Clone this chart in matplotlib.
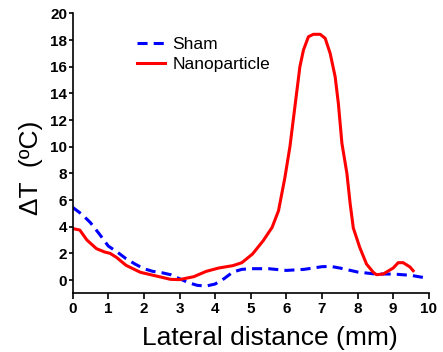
import matplotlib
matplotlib.use("Agg")
import matplotlib.pyplot as plt

plt.rcParams['font.family'] = ['Liberation Sans', 'DejaVu Sans']

# Sham (blue dashed)
sham_x = [0.0, 0.25, 0.5, 0.75, 1.0, 1.25, 1.5, 1.75, 2.0, 2.25, 2.5, 2.75,
          3.0, 3.25, 3.5, 3.75, 4.0, 4.25, 4.5, 4.75, 5.0, 5.5, 6.0, 6.5,
          7.0, 7.25, 7.5, 8.0, 8.5, 9.0, 9.5, 10.0]
sham_y = [5.45, 4.95, 4.3, 3.45, 2.55, 2.1, 1.6, 1.2, 0.85, 0.65, 0.55, 0.4,
          0.1, -0.2, -0.4, -0.45, -0.3, 0.1, 0.6, 0.8, 0.85, 0.85, 0.72, 0.8,
          1.0, 1.02, 0.9, 0.6, 0.45, 0.45, 0.35, 0.12]

# Nanoparticle (red solid)
nano_x = [0.0, 0.2, 0.4, 0.67, 0.9, 1.05, 1.23, 1.5, 1.9, 2.35, 2.75, 3.0,
          3.4, 3.75, 4.1, 4.5, 4.75, 5.05, 5.35, 5.6, 5.78, 5.96, 6.1, 6.24,
          6.38, 6.48, 6.62, 6.76, 6.95, 7.09, 7.23, 7.37, 7.46, 7.56, 7.7,
          7.79, 7.88, 8.06, 8.25, 8.44, 8.53, 8.72, 9.0, 9.14, 9.28, 9.47, 9.56]
nano_y = [3.86, 3.75, 3.0, 2.35, 2.1, 2.0, 1.7, 1.1, 0.58, 0.3, 0.05, 0.03,
          0.25, 0.65, 0.9, 1.08, 1.3, 1.95, 2.95, 3.95, 5.2, 7.7, 10.0, 13.0,
          16.0, 17.25, 18.25, 18.43, 18.43, 18.13, 17.0, 15.25, 13.25, 10.25, 8.0,
          5.75, 3.9, 2.45, 1.2, 0.58, 0.4, 0.45, 0.9, 1.3, 1.3, 0.98, 0.7]

x_ticks = [0, 1, 2, 3, 4, 5, 6, 7, 8, 9, 10]
y_ticks = [0, 2, 4, 6, 8, 10, 12, 14, 16, 18, 20]

fig = plt.figure(figsize=(4.43, 3.52), dpi=100)
ax = fig.add_axes([0.164, 0.1685, 0.804, 0.7935])

ax.plot(sham_x, sham_y, color='#0000ff', lw=2.2, linestyle=(0, (3.3, 2.0)),
        dash_capstyle='butt', label='Sham')
ax.plot(nano_x, nano_y, color='#ff0000', lw=2.2, solid_joinstyle='round',
        label='Nanoparticle')

ax.set_xlim(0, 10)
ax.set_ylim(-0.95, 20)
ax.set_xticks(x_ticks)
ax.set_yticks(y_ticks)
ax.spines['top'].set_visible(False)
ax.spines['right'].set_visible(False)
ax.spines['left'].set_linewidth(1.2)
ax.spines['bottom'].set_linewidth(1.2)
ax.tick_params(axis='x', direction='out', length=4, width=1.2, labelsize=11, pad=3)
ax.tick_params(axis='y', direction='out', length=3, width=1.2, labelsize=11, pad=1)
for lbl in ax.get_xticklabels() + ax.get_yticklabels():
    lbl.set_fontweight('bold')

ax.set_xlabel('Lateral distance (mm)', fontsize=19, va='center')
ax.xaxis.set_label_coords(0.554, -0.162)
ax.set_ylabel('ΔT  (ºC)', fontsize=19, va='center')
ax.yaxis.set_label_coords(-0.117, 0.446)

ax.legend(loc='upper left', bbox_to_anchor=(0.161, 0.94), frameon=False,
          fontsize=12.5, handlelength=1.6, handletextpad=0.45, labelspacing=0.25,
          borderaxespad=0)

fig.savefig('out.png', dpi=100)
